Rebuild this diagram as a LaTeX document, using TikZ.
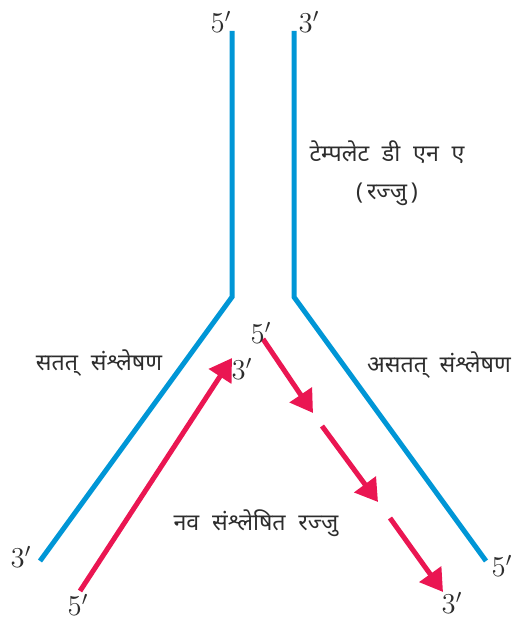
\documentclass[tikz,border=0pt]{standalone}
\usepackage{fontspec}
\newfontfamily\hindi[Script=Devanagari]{Noto Sans}
\usetikzlibrary{arrows.meta}
\definecolor{strandblue}{RGB}{0,150,214}
\definecolor{newred}{RGB}{234,22,82}
\definecolor{labelgray}{RGB}{45,45,45}
\newcommand{\gap}{\hspace{0.55em}}

\begin{document}
\begin{tikzpicture}[x=0.5pt, y=-0.5pt,
    template/.style={strandblue, line width=2.5pt},
    newstrand/.style={newred, line width=2.5pt, -{Triangle[length=11pt, width=13pt]}},
    endlabel/.style={labelgray, font=\fontsize{14.5}{16}\selectfont},
    hindilabel/.style={labelgray, font=\hindi\fontsize{11.6}{15}\selectfont, align=center}]
    \useasboundingbox (0,0) rectangle (517,619);

    % Template strands
    \coordinate (lt) at (232,31);
    \coordinate (lj) at (232,297);
    \coordinate (lb) at (40,561);
    \coordinate (rt) at (294,31);
    \coordinate (rj) at (294,297);
    \coordinate (rb) at (486,561);
    \draw[template] (lt) -- (lj) -- (lb);
    \draw[template] (rt) -- (rj) -- (rb);

    % Continuous synthesis
    \coordinate (cs) at (80,591);
    \coordinate (ce) at (232,358);
    \draw[newstrand] (cs) -- (ce);

    % Discontinuous synthesis
    \coordinate (d1s) at (263,339);
    \coordinate (d1e) at (313,413);
    \coordinate (d2s) at (322,426);
    \coordinate (d2e) at (378,502);
    \coordinate (d3s) at (390,518);
    \coordinate (d3e) at (443,592);
    \draw[newstrand] (d1s) -- (d1e);
    \draw[newstrand] (d2s) -- (d2e);
    \draw[newstrand] (d3s) -- (d3e);

    % End labels
    \node[endlabel] (lt5) at (221,22) {$5'$};
    \node[endlabel] (rt3) at (309,22) {$3'$};
    \node[endlabel] (lb3) at (21,557) {$3'$};
    \node[endlabel] (rb5) at (502,566) {$5'$};
    \node[endlabel] (cs5) at (78,605) {$5'$};
    \node[endlabel] (ce3) at (242,369) {$3'$};
    \node[endlabel] (d5) at (261,333) {$5'$};
    \node[endlabel] (d3) at (452,603) {$3'$};

    % Texts
    \node[hindilabel] (tmpl) at (387,173) {टेम्पलेट\gap डी\gap एन\gap ए\\[4pt](\,रज्जु\,)};
    \node[hindilabel] (cont) at (99,363) {सतत्\gap संश्लेषण};
    \node[hindilabel] (disc) at (439,365) {असतत्\gap संश्लेषण};
    \node[hindilabel] (nascent) at (256,523) {नव\gap संश्लेषित\gap रज्जु};
\end{tikzpicture}
\end{document}
